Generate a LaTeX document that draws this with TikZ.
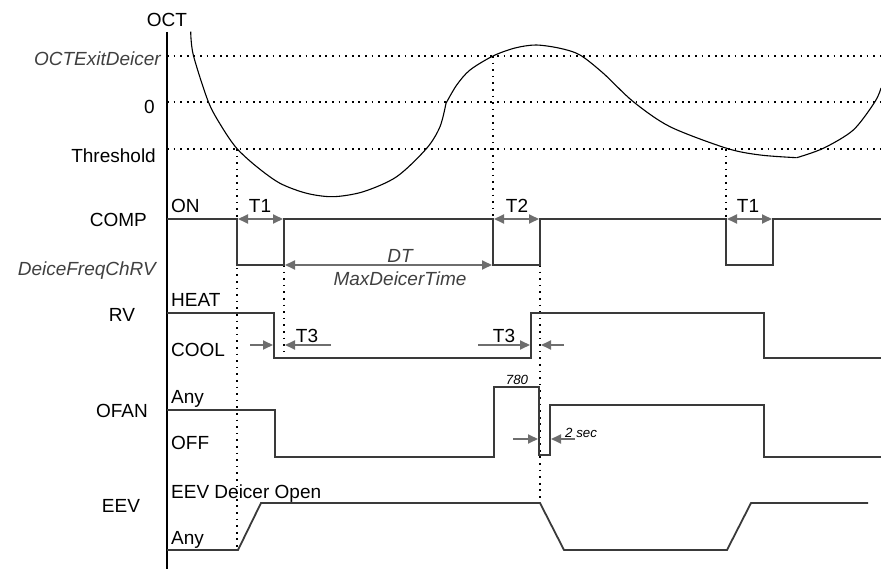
\documentclass[tikz,border=0pt]{standalone}
\usepackage{fontspec}
\setmainfont{Liberation Sans}
\usetikzlibrary{arrows.meta}
\definecolor{sig}{HTML}{3A3A3A}
\definecolor{arr}{HTML}{6E6E6E}
\definecolor{itx}{HTML}{404040}
\begin{document}
\begin{tikzpicture}[x=1pt,y=-1pt,
  lbl/.style={font=\fontsize{19}{22}\selectfont, inner sep=0pt},
  ilbl/.style={font=\fontsize{19}{22}\selectfont\itshape, text=itx, inner sep=0pt},
  small/.style={font=\fontsize{13.3}{15}\selectfont\itshape, inner sep=0pt},
  sigline/.style={draw=sig, line width=1.8pt, line join=miter},
  dotline/.style={draw=black, line width=1.7pt, dash pattern=on 1.7pt off 4.9pt},
  curve/.style={draw=black, line width=1.1pt},
  axisline/.style={draw=black, line width=1.8pt},
  dimarrow/.style={draw=arr, line width=1.8pt, arrows={Triangle[length=10pt,width=9pt]-Triangle[length=10pt,width=9pt]}},
  onearrow/.style={draw=arr, line width=1.8pt, -{Triangle[length=10pt,width=9pt]}},
]
\useasboundingbox (0,0) rectangle (881,569);

% horizontal dotted levels
\draw[dotline] (167,56) -- (881,56);
\draw[dotline] (167,102) -- (881,102);
\draw[dotline] (167,149) -- (881,149);

% vertical dotted markers
\draw[dotline] (237,149) -- (237,550);
\draw[dotline] (284,265) -- (284,358);
\draw[dotline] (493,56) -- (493,219);
\draw[dotline] (540,265) -- (540,503);
\draw[dotline] (726,149) -- (726,219);

% OCT curve
\draw[curve] plot[smooth, tension=0.5] coordinates {(190.7,31.7) (193.3,55) (208.3,101.7) (221.7,126.7) (236.7,148.3) (256.7,166.7) (280,183.3) (306.7,193.3) (333.3,196.7) (363.3,191.7) (396.7,176.7) (426.7,148.3) (440,126.7) (446,103.3)};
\draw[curve] plot[smooth, tension=0.5] coordinates {(446,103.3) (456.7,85) (470,70) (493,56) (515,48) (536,45) (560,48.3) (580,55) (603.3,73.3) (633.3,101.7) (670,126.7) (726.7,148.3) (760,155) (796.7,157.7)};
\draw[curve] plot[smooth, tension=0.5] coordinates {(796.7,157.7) (823.3,148.3) (853.3,130) (875,101.7) (881,88)};

% axis
\draw[axisline] (167,32) -- (167,569);

% signals
\draw[sigline] (167,219) -- (237,219) -- (237,265) -- (284,265) -- (284,219) -- (493,219) -- (493,265) -- (540,265) -- (540,219) -- (726,219) -- (726,265) -- (773,265) -- (773,219) -- (881,219);
\draw[sigline] (167,313) -- (274,313) -- (274,358) -- (531,358) -- (531,313) -- (764,313) -- (764,358) -- (881,358);
\draw[sigline] (167,410) -- (275,410) -- (275,457) -- (494,457) -- (494,387) -- (539,387) -- (539,455) -- (550,455) -- (550,405) -- (764,405) -- (764,457) -- (881,457);
\draw[sigline] (167,550) -- (238,550) -- (261,503) -- (540,503) -- (564,550) -- (727,550) -- (751,503) -- (868,503);

% dimension arrows
\coordinate (t1a) at (238,219); \coordinate (t1b) at (283,219);
\coordinate (t2a) at (494,219); \coordinate (t2b) at (539,219);
\coordinate (t1c) at (727,219); \coordinate (t1d) at (772,219);
\coordinate (dta) at (285,265); \coordinate (dtb) at (492,265);
\draw[dimarrow] (t1a) -- (t1b);
\draw[dimarrow] (t2a) -- (t2b);
\draw[dimarrow] (t1c) -- (t1d);
\draw[dimarrow] (dta) -- (dtb);

\coordinate (a1s) at (250,345); \coordinate (a1e) at (273,345);
\coordinate (a2s) at (331,345); \coordinate (a2e) at (285,345);
\coordinate (a3s) at (478,345); \coordinate (a3e) at (530,345);
\coordinate (a4s) at (564,345); \coordinate (a4e) at (541,345);
\draw[onearrow] (a1s) -- (a1e);
\draw[onearrow] (a2s) -- (a2e);
\draw[onearrow] (a3s) -- (a3e);
\draw[onearrow] (a4s) -- (a4e);

\coordinate (b1s) at (513,439); \coordinate (b1e) at (538,439);
\coordinate (b2s) at (575,439); \coordinate (b2e) at (551,439);
\draw[onearrow] (b1s) -- (b1e);
\draw[onearrow] (b2s) -- (b2e);

% left labels
\node[lbl, anchor=base] (oct) at (167,27) {OCT};
\node[ilbl, anchor=base east] (exitd) at (161,66) {OCTExitDeicer};
\node[lbl, anchor=base east] (zero) at (155,114) {0};
\node[lbl, anchor=base east] (thr) at (156,163) {Threshold};
\node[lbl, anchor=base east] (comp) at (147,227) {COMP};
\node[ilbl, anchor=base east] (dfc) at (156,276) {DeiceFreqChRV};
\node[lbl, anchor=base] (rv) at (122,322) {RV};
\node[lbl, anchor=base east] (ofan) at (148,417) {OFAN};
\node[lbl, anchor=base] (eev) at (121,512) {EEV};

% state labels
\node[lbl, anchor=base west] (on) at (171,213) {ON};
\node[lbl, anchor=base west] (heat) at (171,307) {HEAT};
\node[lbl, anchor=base west] (cool) at (171,356) {COOL};
\node[lbl, anchor=base west] (any1) at (171,403) {Any};
\node[lbl, anchor=base west] (off) at (171,449) {OFF};
\node[lbl, anchor=base west] (eevo) at (171,498) {EEV Deicer Open};
\node[lbl, anchor=base west] (any2) at (171,544) {Any};

% timing labels
\node[lbl, anchor=base] (lt1a) at (260,213) {T1};
\node[lbl, anchor=base] (lt2) at (517,213) {T2};
\node[lbl, anchor=base] (lt1b) at (748,213) {T1};
\node[lbl, anchor=base] (lt3a) at (307,342) {T3};
\node[lbl, anchor=base] (lt3b) at (504,342) {T3};
\node[ilbl, anchor=base] (ldt) at (400,263) {DT};
\node[ilbl, anchor=base] (lmax) at (400,286) {MaxDeicerTime};
\node[small, anchor=base] (l780) at (517,384) {780};
\node[small, anchor=base west] (l2s) at (565,437) {2 sec};
\end{tikzpicture}
\end{document}
